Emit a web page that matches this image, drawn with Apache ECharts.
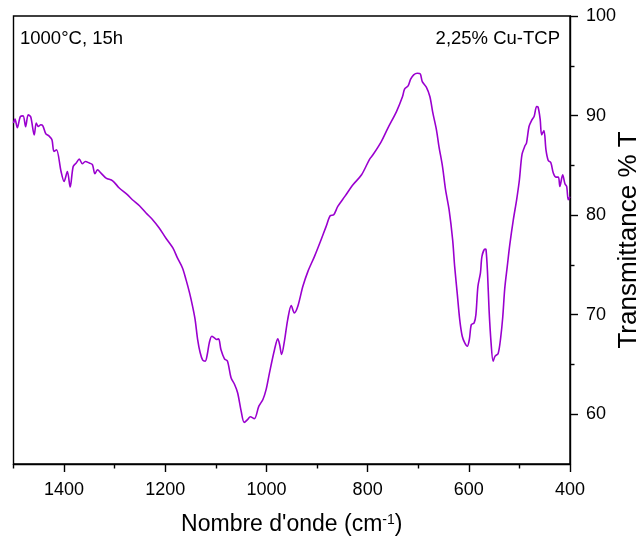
<!DOCTYPE html>
<html>
<head>
<meta charset="utf-8">
<script src="https://cdn.jsdelivr.net/npm/echarts@6/dist/echarts.min.js"></script>
<style>
html,body{margin:0;padding:0;background:#fff;}
#chart{width:638px;height:537px;}
</style>
</head>
<body>
<div id="chart"></div>
<script>
// Wavenumber (cm-1) and transmittance (% T)
var wavenumbers = [1500,1497,1492.5,1486.5,1481,1476,1471,1466,1459,1455,1451,1446,1442,1436,1430,1424,1420,1415,1406,1400,1393.5,1388,1382,1376,1370,1364,1358,1350,1344,1339,1334,1327,1317,1304,1291,1275,1265,1251,1238,1225,1212,1199,1185,1176,1166,1159,1152,1146,1141,1136,1131,1126,1121,1117,1113,1108,1103,1098.5,1094.5,1090,1083,1077,1070,1063,1057,1050,1044,1037,1032,1024,1015,1007,1000.6,994,984,977.6,974,970,964,958,951,945,938,928,918,905,892,882,874,867,859,845,829,812,796,789.5,773,760,743,731,727,720,715,709,702,696,692,684,677,671,664,659,652,646,639,632,628,623,618,613,608,603,599,595,589.5,586,582,577,574,568,566,563,560,556,552,548,542,537,533,529,524,519,512,505.5,500,495,489,486,481,476,471,466,463,459,456,451.5,447.5,443,438,433,428,423,420,414.5,410,406.6,403.4,400];
var transmittance = [89.24,89.64,88.77,89.90,89.97,88.87,90.07,89.87,88.06,89.24,88.90,89.07,88.97,88.16,87.96,87.56,86.39,86.56,84.38,83.38,84.38,82.82,84.88,85.23,85.63,85.16,85.39,85.23,85.06,84.15,84.55,84.22,83.72,83.45,82.72,82.05,81.54,80.94,80.21,79.54,78.71,77.70,76.70,75.70,74.69,73.52,72.19,70.84,69.51,67.50,66.17,65.43,65.33,66.00,67.17,67.83,67.67,67.50,67.57,66.50,65.57,65.33,63.66,62.99,62.16,60.31,59.18,59.48,59.75,59.55,60.81,61.48,62.49,64.16,66.50,67.57,67.00,66.00,67.50,69.51,70.91,70.18,70.84,72.85,74.35,75.86,77.53,78.87,79.94,80.04,80.87,81.88,83.05,84.05,85.63,86.06,87.39,88.74,90.40,91.91,92.65,92.98,93.65,94.08,94.25,94.18,93.41,92.85,91.91,90.24,88.57,86.89,84.88,82.55,80.54,77.53,74.85,72.19,69.51,67.83,67.17,66.83,67.50,69.01,69.18,70.01,72.85,74.19,75.86,76.58,76.53,74.19,70.51,67.17,65.33,65.83,66.10,67.70,69.71,72.62,74.85,77.03,79.54,81.54,83.55,86.06,86.96,87.23,88.90,89.50,89.90,90.90,90.84,89.64,88.06,88.50,86.56,85.49,85.29,84.22,83.82,83.82,82.88,84.05,83.15,82.88,81.54,81.85];

var xMajorTicks = [400,600,800,1000,1200,1400];
var xMinorTicks = [500,700,900,1100,1300,1500];
var yMajorTicks = [60,70,80,90,100];
var yMinorTicks = [65,75,85,95];

var xTitle = "Nombre d'onde (cm{sup|-1})";
var yTitle = "Transmittance % T";
var leftNote = "1000°C, 15h";
var rightNote = "2,25% Cu-TCP";

var seriesData = wavenumbers.map(function (w, i) { return [w, transmittance[i]]; });

var FONT = 'Liberation Sans, Arial, sans-serif';
var chart = echarts.init(document.getElementById('chart'), null, {renderer: 'canvas'});

function plain(v) { return String(v); }

var xBase = {
  type: 'value', min: 400, max: 1500, inverse: true, position: 'bottom',
  splitLine: {show: false}
};
var yBase = {
  type: 'value', min: 55, max: 100, position: 'right',
  splitLine: {show: false}
};

chart.setOption({
  animation: false,
  backgroundColor: '#fff',
  grid: {left: 13.5, right: 68, top: 16, bottom: 73, show: true, borderColor: '#000', borderWidth: 1.4,
    backgroundColor: 'transparent', containLabel: false, outerBoundsMode: 'none'},
  xAxis: [
    Object.assign({}, xBase, {
      axisLine: {show: true, lineStyle: {color: '#000', width: 1.4}},
      axisTick: {show: true, customValues: xMajorTicks, length: 8, inside: false, lineStyle: {color: '#000', width: 1.4}},
      axisLabel: {show: true, customValues: xMajorTicks, formatter: plain, margin: 17, color: '#000', fontSize: 18, fontFamily: FONT},
      name: xTitle, nameLocation: 'middle', nameGap: 49, nameMoveOverlap: false,
      nameTextStyle: {color: '#000', fontSize: 23, fontFamily: FONT,
        rich: {sup: {fontSize: 14, fontFamily: FONT, color: '#000', verticalAlign: 'top'}}}
    }),
    Object.assign({}, xBase, {
      axisLine: {show: false},
      axisTick: {show: true, customValues: xMinorTicks, length: 4.5, inside: false, lineStyle: {color: '#000', width: 1.4}},
      axisLabel: {show: false}
    })
  ],
  yAxis: [
    Object.assign({}, yBase, {
      axisLine: {show: true, lineStyle: {color: '#000', width: 1.4}},
      axisTick: {show: true, customValues: yMajorTicks, length: 8, inside: false, lineStyle: {color: '#000', width: 1.4}},
      axisLabel: {show: true, customValues: yMajorTicks, formatter: plain, margin: 16, color: '#000', fontSize: 18, fontFamily: FONT},
      name: yTitle, nameLocation: 'middle', nameGap: 46, nameRotate: 90, nameMoveOverlap: false,
      nameTextStyle: {color: '#000', fontSize: 26, fontFamily: FONT}
    }),
    Object.assign({}, yBase, {
      axisLine: {show: false},
      axisTick: {show: true, customValues: yMinorTicks, length: 4.5, inside: false, lineStyle: {color: '#000', width: 1.4}},
      axisLabel: {show: false}
    })
  ],
  graphic: [
    {type: 'text', left: 20, top: 29, style: {text: leftNote, fill: '#000', font: '18.5px ' + FONT}},
    {type: 'text', right: 78, top: 29, style: {text: rightNote, fill: '#000', font: '18.5px ' + FONT}}
  ],
  series: [{
    type: 'line', xAxisIndex: 0, yAxisIndex: 0,
    data: seriesData, showSymbol: false, smooth: 0.3,
    lineStyle: {color: '#9A00CF', width: 1.6},
    clip: true
  }]
});
</script>
</body>
</html>
